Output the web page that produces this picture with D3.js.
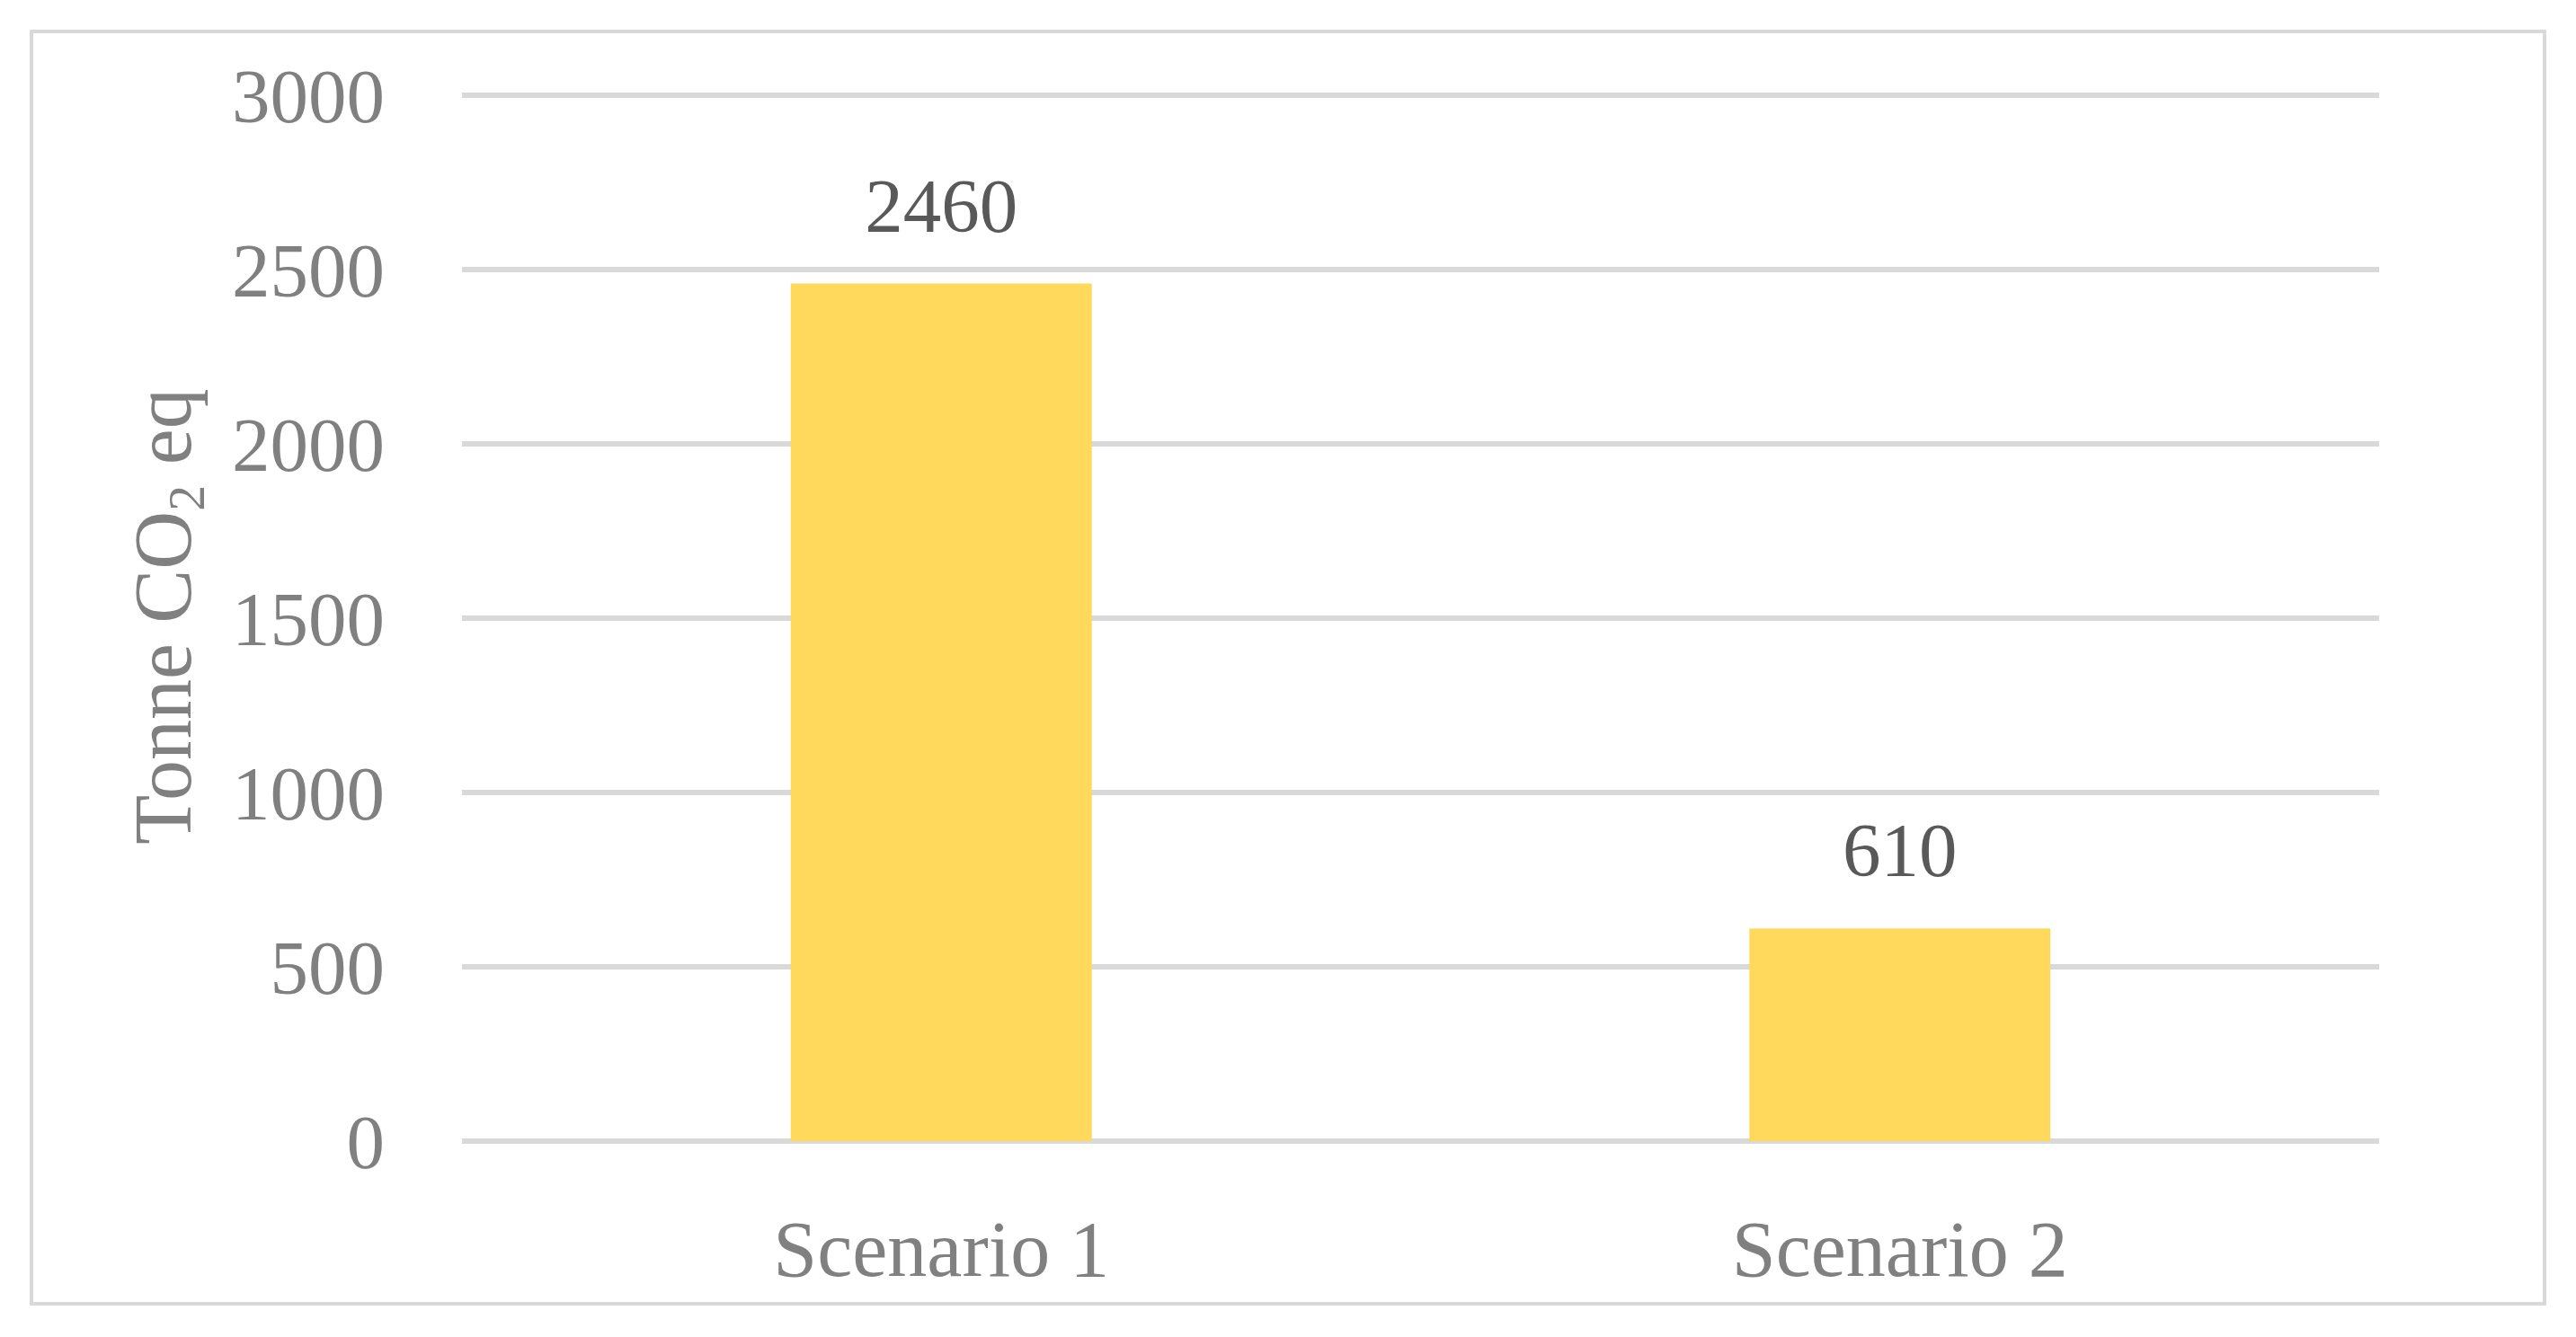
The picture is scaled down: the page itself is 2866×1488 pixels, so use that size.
<!DOCTYPE html>
<html><head><meta charset="utf-8">
<script src="https://cdn.jsdelivr.net/npm/d3@7"></script>
<style>body{margin:0;background:#fff}</style>
</head><body>
<svg id="chart" width="2866" height="1488"></svg>
<script>
const categories = ["Scenario 1", "Scenario 2"];
const values = [2460, 610];
const yTicks = [0, 500, 1000, 1500, 2000, 2500, 3000];

const svg = d3.select("#chart");
const font = "'Liberation Serif', 'DejaVu Serif', serif";

svg.append("rect").attr("x", 35).attr("y", 35).attr("width", 2796).attr("height", 1416)
	.attr("fill", "#fff").attr("stroke", "#d9d9d9").attr("stroke-width", 4);

const xs = d3.scaleBand().domain(categories).range([514, 2647]).paddingInner(0.686).paddingOuter(0.343);
const ys = d3.scaleLinear().domain([0, 3000]).range([1270, 106]);

svg.append("g").selectAll("line").data(yTicks).enter().append("line")
	.attr("x1", 514).attr("x2", 2647)
	.attr("y1", d => ys(d)).attr("y2", d => ys(d))
	.attr("stroke", "#d9d9d9").attr("stroke-width", 6);

svg.append("g").selectAll("text").data(yTicks).enter().append("text")
	.attr("x", 428).attr("y", d => ys(d)).attr("dy", "0.35em")
	.attr("text-anchor", "end").attr("fill", "#808080")
	.style("font-family", font).style("font-size", "85px")
	.text(d => d);

const bars = categories.map((c, i) => ({ cat: c, val: values[i] }));

svg.append("g").selectAll("rect").data(bars).enter().append("rect")
	.attr("x", d => xs(d.cat)).attr("width", xs.bandwidth())
	.attr("y", d => ys(d.val)).attr("height", d => ys(0) - ys(d.val))
	.attr("fill", "#ffd95c");

svg.append("g").selectAll("text").data(bars).enter().append("text")
	.attr("x", d => xs(d.cat) + xs.bandwidth() / 2).attr("y", d => ys(d.val) - 58)
	.attr("text-anchor", "middle").attr("fill", "#595959")
	.style("font-family", font).style("font-size", "85px")
	.text(d => d.val);

svg.append("g").selectAll("text").data(categories).enter().append("text")
	.attr("x", d => xs(d) + xs.bandwidth() / 2).attr("y", 1420)
	.attr("text-anchor", "middle").attr("fill", "#808080")
	.style("font-family", font).style("font-size", "88px")
	.text(d => d);

const title = svg.append("text")
	.attr("transform", "translate(212,686) rotate(-90)")
	.attr("text-anchor", "middle").attr("fill", "#808080")
	.style("font-family", font).style("font-size", "90px");
title.append("tspan").text("Tonne CO");
title.append("tspan").attr("dy", "0.25em").style("font-size", "58px").text("2");
title.append("tspan").attr("dy", "-0.16em").text(" eq");
</script>
</body></html>
